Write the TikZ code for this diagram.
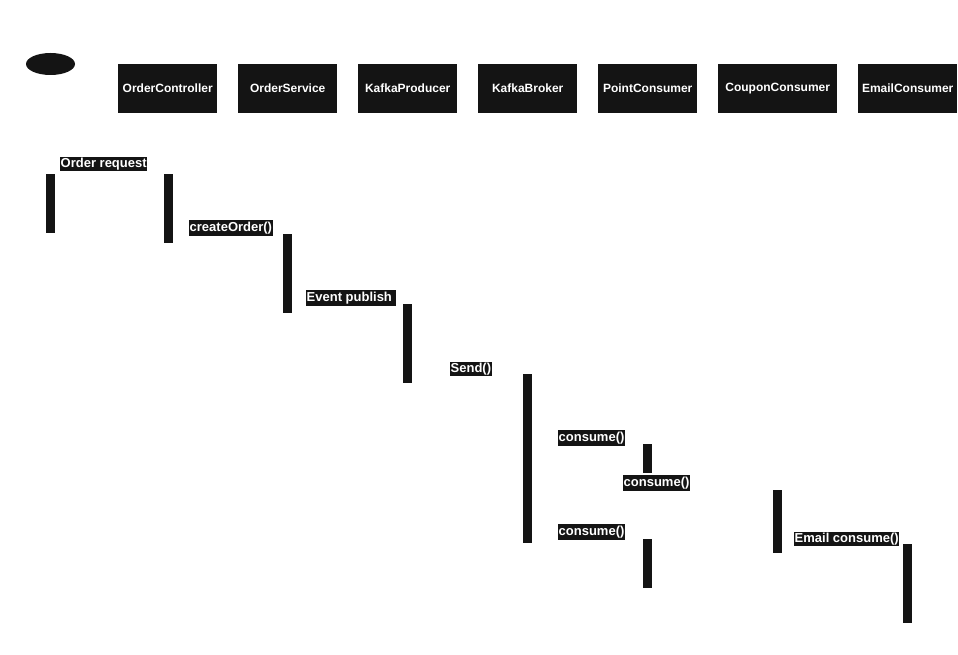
\documentclass[tikz,border=0pt]{standalone}
\usepackage{fontspec}
\usetikzlibrary{shapes.geometric}
\setmainfont{Liberation Sans}
\definecolor{ink}{RGB}{20,20,20}
\tikzset{
  hdr/.style={fill=ink, text=white, font=\fontsize{12}{14}\selectfont\bfseries, minimum width=99pt, minimum height=49pt, inner sep=0pt, anchor=north west},
  lbl/.style={fill=ink, text=white, font=\fontsize{13}{15}\selectfont\bfseries, inner xsep=0.5pt, inner ysep=0pt, minimum height=15pt, anchor=west},
  barfill/.style={fill=ink},
}
\begin{document}
\begin{tikzpicture}[x=1pt,y=-1pt]
\useasboundingbox (0,0) rectangle (958,655);
\fill[white] (0,0) rectangle (958,655);
% actor ellipse
\node[ellipse, fill=ink, minimum width=49pt, minimum height=22pt, inner sep=0pt] (actor) at (50.5,64) {};
% headers
\node[hdr] (oc) at (118,64) {OrderController};
\node[hdr] (os) at (238,64) {OrderService};
\node[hdr] (kp) at (358,64) {KafkaProducer};
\node[hdr] (kb) at (478,64) {KafkaBroker};
\node[hdr] (pc) at (598,64) {PointConsumer};
\node[hdr, minimum width=119pt] (cc) at (718,64) {CouponConsumer};
\node[hdr] (ec) at (858,64) {EmailConsumer};
% activation bars
\fill[barfill] (46,174) rectangle (55,233);
\fill[barfill] (164,174) rectangle (173,243);
\fill[barfill] (283,234) rectangle (292,313);
\fill[barfill] (403,304) rectangle (412,383);
\fill[barfill] (523,374) rectangle (532,543);
\fill[barfill] (643,444) rectangle (652,473);
\fill[barfill] (643,539) rectangle (652,588);
\fill[barfill] (773,490) rectangle (782,553);
\fill[barfill] (903,544) rectangle (912,623);
% labels
\node[lbl, minimum height=14pt] (l1) at (60,164) {Order request};
\node[lbl, minimum height=16pt] (l2) at (189,228) {createOrder()};
\node[lbl, minimum height=16pt, minimum width=89pt, align=left] (l3) at (306,298) {Event publish\hspace{4pt}};
\node[lbl, minimum height=14pt] (l4) at (450,369) {Send()};
\node[lbl, minimum height=16pt] (l5) at (558,438) {consume()};
\node[lbl, minimum height=16pt] (l6) at (623,483) {consume()};
\node[lbl, minimum height=16pt] (l7) at (558,532) {consume()};
\node[lbl, minimum height=14pt] (l8) at (794,539) {Email consume()};
\end{tikzpicture}
\end{document}
